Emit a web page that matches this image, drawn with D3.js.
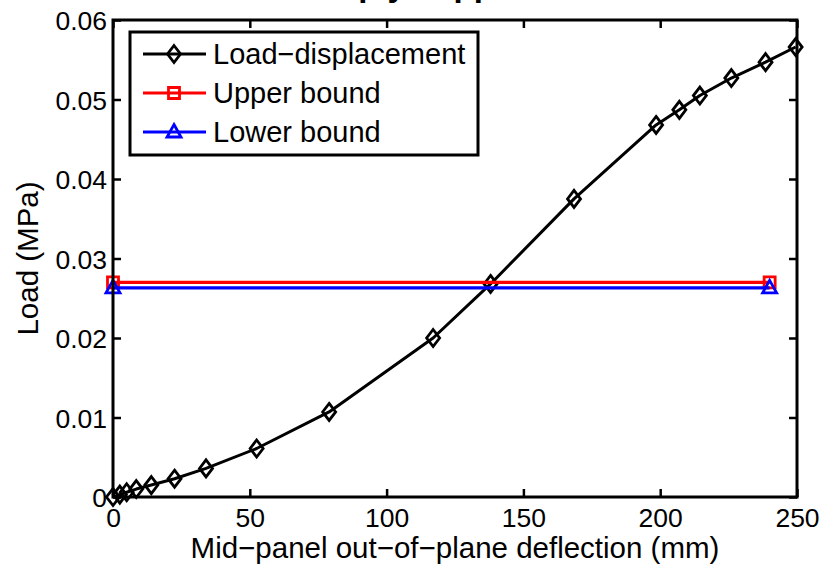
<!DOCTYPE html>
<html>
<head>
<meta charset="utf-8">
<script src="https://cdn.jsdelivr.net/npm/d3@7"></script>
<style>
  html, body { margin: 0; padding: 0; background: #fff; }
  svg { display: block; }
  text { font-family: 'Liberation Sans', Arial, Helvetica, sans-serif; fill: #000; }
</style>
</head>
<body>
<div id="chart"></div>
<script>
// Load–displacement curve (mm, MPa)
const deflection = [0, 2.5, 5, 8.5, 14, 22.5, 34, 52.5, 79, 117, 138, 168.5, 198.5, 207, 214.5, 226, 238.5, 249.5];
const load = [0, 0.0003, 0.0006, 0.0010, 0.0015, 0.0023, 0.0036, 0.0061, 0.0107, 0.0200, 0.0268, 0.0375, 0.0468, 0.0487, 0.0505, 0.0527, 0.0547, 0.0566];

// Bounds (two end points each)
const boundX = [0, 240];
const upperBound = [0.0270, 0.0270];
const lowerBound = [0.0263, 0.0263];

const xTicks = [0, 50, 100, 150, 200, 250];
const yTicks = [0, 0.01, 0.02, 0.03, 0.04, 0.05, 0.06];

const W = 827, H = 568;
const margin = { top: 20, right: 30, bottom: 71, left: 113 };

const svg = d3.select('#chart').append('svg')
  .attr('width', W).attr('height', H);

const x = d3.scaleLinear().domain([0, 250]).range([margin.left, W - margin.right]);
const y = d3.scaleLinear().domain([0, 0.06]).range([H - margin.bottom, margin.top]);

const tickFont = 26.5;
const labelFont = 29.5;
const legendFont = 29;

// Title (clipped at the top of the figure, as in the original)
svg.append('text')
  .attr('x', (x(0) + x(250)) / 2 - 18).attr('y', -4)
  .attr('text-anchor', 'middle')
  .attr('font-size', 33).attr('font-weight', 'bold')
  .text('Simply supported');

// Axes (ticks inside, mirrored on all sides)
const tickLen = 8;
const gx = svg.append('g').attr('transform', `translate(0,${y(0)})`)
  .call(d3.axisBottom(x).tickValues(xTicks).tickSizeInner(-tickLen).tickSizeOuter(0).tickPadding(9));
const gxTop = svg.append('g').attr('transform', `translate(0,${y(0.06)})`)
  .call(d3.axisTop(x).tickValues(xTicks).tickSizeInner(-tickLen).tickSizeOuter(0).tickFormat(''));
const gy = svg.append('g').attr('transform', `translate(${x(0)},0)`)
  .call(d3.axisLeft(y).tickValues(yTicks).tickSizeInner(-tickLen).tickSizeOuter(0).tickPadding(6)
    .tickFormat(d => d === 0 ? '0' : d3.format('.2f')(d)));
const gyRight = svg.append('g').attr('transform', `translate(${x(250)},0)`)
  .call(d3.axisRight(y).tickValues(yTicks).tickSizeInner(-tickLen).tickSizeOuter(0).tickFormat(''));

[gx, gxTop, gy, gyRight].forEach(g => {
  g.select('.domain').remove();
  g.selectAll('.tick line').attr('stroke', '#000').attr('stroke-width', 2.5);
  g.selectAll('.tick text')
    .attr('font-size', tickFont)
    .attr('font-family', "'Liberation Sans', Arial, Helvetica, sans-serif")
    .attr('fill', '#000');
});
gy.selectAll('.tick text').attr('dy', '0.36em');
gx.selectAll('.tick text').attr('dy', '0.78em');

// Lines
const lineGen = d3.line().x(d => x(d[0])).y(d => y(d[1]));

const series = [
  { name: 'Load\u2212displacement', xs: deflection, ys: load, color: '#000', marker: 'diamond', width: 3 },
  { name: 'Upper bound', xs: boundX, ys: upperBound, color: '#ff0000', marker: 'square', width: 3.2 },
  { name: 'Lower bound', xs: boundX, ys: lowerBound, color: '#0000ff', marker: 'triangle', width: 3.2 }
];

function markerPath(type) {
  if (type === 'diamond') return 'M0,-8.5L6.5,0L0,8.5L-6.5,0Z';
  if (type === 'square') return 'M-5.5,-5.5H5.5V5.5H-5.5Z';
  return 'M0,-7.5L7,5L-7,5Z';
}

series.forEach(s => {
  const pts = s.xs.map((v, i) => [v, s.ys[i]]);
  svg.append('path').datum(pts)
    .attr('fill', 'none').attr('stroke', s.color).attr('stroke-width', s.width)
    .attr('stroke-linejoin', 'round')
    .attr('d', lineGen);
  svg.selectAll(null).data(pts).enter().append('path')
    .attr('transform', d => `translate(${x(d[0])},${y(d[1])})`)
    .attr('d', markerPath(s.marker))
    .attr('fill', 'none').attr('stroke', s.color).attr('stroke-width', 2.8);
});

// Frame
svg.append('rect')
  .attr('x', x(0)).attr('y', y(0.06))
  .attr('width', x(250) - x(0)).attr('height', y(0) - y(0.06))
  .attr('fill', 'none').attr('stroke', '#000').attr('stroke-width', 3);

// Axis labels
svg.append('text')
  .attr('x', (x(0) + x(250)) / 2).attr('y', H - 10)
  .attr('text-anchor', 'middle').attr('font-size', labelFont)
  .text('Mid\u2212panel out\u2212of\u2212plane deflection (mm)');

svg.append('text')
  .attr('transform', `translate(38,${(y(0) + y(0.06)) / 2}) rotate(-90)`)
  .attr('text-anchor', 'middle').attr('font-size', labelFont)
  .text('Load (MPa)');

// Legend
const lg = svg.append('g').attr('transform', 'translate(130,32)');
lg.append('rect').attr('width', 348).attr('height', 123)
  .attr('fill', '#fff').attr('stroke', '#000').attr('stroke-width', 3);
series.forEach((s, i) => {
  const cy = 22 + i * 39;
  lg.append('line').attr('x1', 13).attr('x2', 76).attr('y1', cy).attr('y2', cy)
    .attr('stroke', s.color).attr('stroke-width', s.width);
  lg.append('path').attr('transform', `translate(44,${cy})`)
    .attr('d', markerPath(s.marker))
    .attr('fill', 'none').attr('stroke', s.color).attr('stroke-width', 2.8);
  lg.append('text').attr('x', 83).attr('y', cy).attr('dy', '0.36em')
    .attr('font-size', legendFont).text(s.name);
});
</script>
</body>
</html>
